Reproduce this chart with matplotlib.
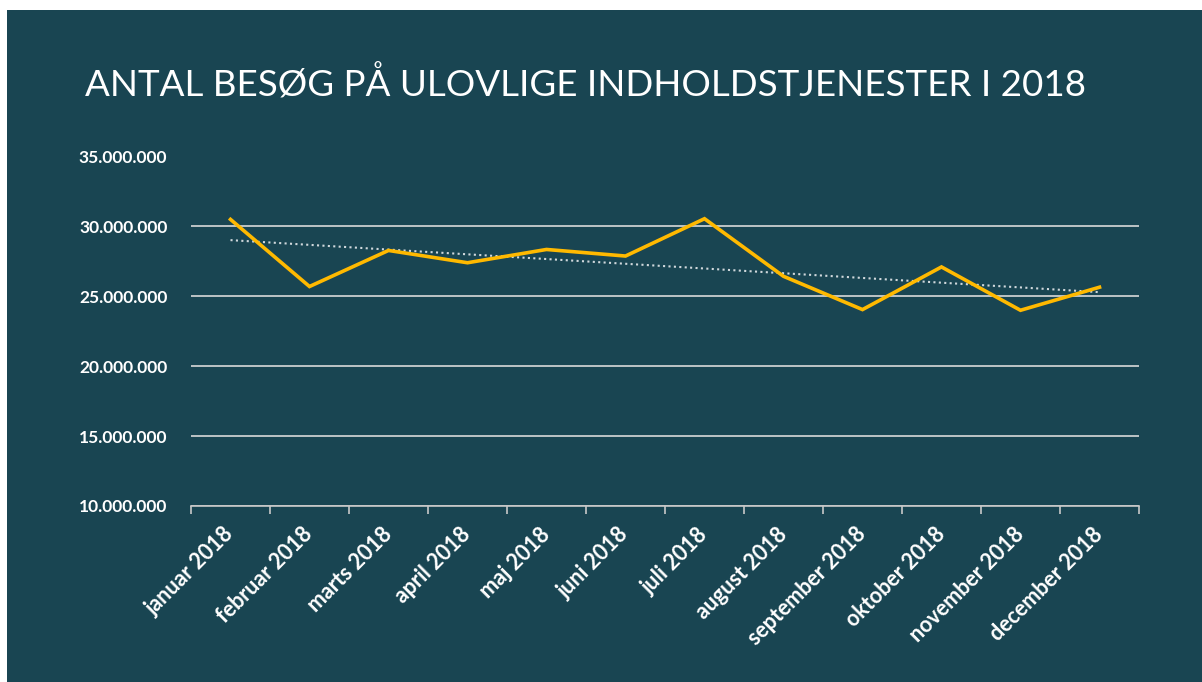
import matplotlib.pyplot as plt
from matplotlib.patches import Rectangle
from matplotlib.ticker import FuncFormatter
import numpy as np

plt.rcParams['font.family'] = ['Lato', 'DejaVu Sans']

# data (visits, in millions)
months = ["januar 2018", "februar 2018", "marts 2018", "april 2018", "maj 2018", "juni 2018",
          "juli 2018", "august 2018", "september 2018", "oktober 2018", "november 2018", "december 2018"]
visits = [30.50, 25.70, 28.28, 27.40, 28.35, 27.88, 30.55, 26.43, 24.05, 27.10, 24.00, 25.65]
yticks = [10, 15, 20, 25, 30, 35]

bg = "#194552"
fig = plt.figure(figsize=(12.02, 6.82), dpi=100, facecolor="white")
fig.patches.append(Rectangle((7 / 1202, 0), 1, 1 - 10 / 682, transform=fig.transFigure,
                             facecolor=bg, edgecolor="none", zorder=-10))

ax = fig.add_axes([191 / 1202, 1 - 506 / 682, 948 / 1202, 349.5 / 682])
ax.set_facecolor(bg)

x = np.arange(len(months))
vals = np.array(visits) * 1e6

# linear trendline, as in the spreadsheet
coef = np.polyfit(x, vals, 1)
ax.plot(x, np.polyval(coef, x), color="#d0d8dc", lw=1.5, ls=(0, (1, 1.6)), zorder=2)
ax.plot(x, vals, color="#ffb900", lw=2.6, zorder=3, solid_joinstyle="miter")

ax.set_xlim(-0.5, len(months) - 0.5)
ax.set_ylim(10e6, 35e6)
ax.set_yticks([v * 1e6 for v in yticks])
ax.yaxis.set_major_formatter(FuncFormatter(lambda v, p: f"{int(v):,}".replace(",", ".")))
ax.grid(axis="y", color="#d9d9d9", lw=1.2)
ax.set_axisbelow(True)

for s in ["top", "right", "left"]:
    ax.spines[s].set_visible(False)
ax.spines["bottom"].set_color("#c8c8c8")
ax.spines["bottom"].set_linewidth(1.2)

ax.tick_params(axis="y", length=0, pad=17, labelcolor="white", labelsize=12.5)
for lab in ax.get_yticklabels():
    lab.set_fontweight("bold")

ax.set_xticks(x)
ax.set_xticklabels(months, rotation=45, ha="right", va="center", rotation_mode="anchor",
                   color="white", fontsize=15.5, fontweight="bold")
ax.tick_params(axis="x", length=0, pad=18)
ax.set_xticks(np.arange(-0.5, len(months), 1), minor=True)
ax.tick_params(axis="x", which="minor", length=6, color="#c8c8c8", width=1.2, direction="out")

fig.text(85 / 1202, 1 - 97 / 682, "ANTAL BESØG PÅ ULOVLIGE INDHOLDSTJENESTER I 2018",
         color="white", fontsize=26.5, ha="left", va="baseline")

fig.savefig("out.png", dpi=100, facecolor=fig.get_facecolor())
